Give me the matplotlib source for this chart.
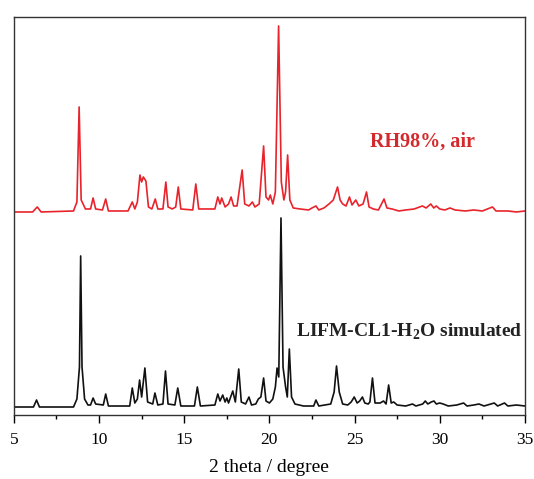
import numpy as np
import matplotlib
matplotlib.use("Agg")
import matplotlib.pyplot as plt

plt.rcParams["font.family"] = ["Liberation Serif", "DejaVu Serif"]
plt.rcParams["mathtext.fontset"] = "custom"
plt.rcParams["mathtext.rm"] = "Liberation Serif"
plt.rcParams["mathtext.bf"] = "Liberation Serif:bold"

### simulated pattern (black) ###
sim_2theta = [5.0, 6.15, 6.33, 6.5, 8.5, 8.7, 8.85, 8.92, 9.0, 9.15, 9.35,
              9.5, 9.65, 9.8, 10.25, 10.39, 10.55, 11.8, 11.95, 12.1,
              12.25, 12.38, 12.5, 12.69, 12.85, 13.15, 13.28, 13.45,
              13.75, 13.9, 14.05, 14.45, 14.62, 14.8, 15.6, 15.77, 15.95,
              16.8, 16.97, 17.1, 17.26, 17.4, 17.5, 17.6, 17.85, 18.0,
              18.2, 18.35, 18.6, 18.8, 18.95, 19.2, 19.35, 19.5, 19.66,
              19.8, 20.0, 20.2, 20.35, 20.45, 20.55, 20.68, 20.8, 20.95,
              21.05, 21.17, 21.3, 21.5, 22.0, 22.6, 22.73, 22.9, 23.6,
              23.8, 23.94, 24.1, 24.3, 24.6, 24.8, 24.98, 25.15, 25.3,
              25.46, 25.6, 25.8, 25.9, 26.05, 26.2, 26.5, 26.7, 26.85,
              27.0, 27.15, 27.3, 27.5, 28.0, 28.4, 28.6, 29.0, 29.15,
              29.3, 29.5, 29.66, 29.8, 30.0, 30.2, 30.5, 31.0, 31.4,
              31.6, 32.0, 32.3, 32.6, 33.0, 33.2, 33.4, 33.8, 34.0,
              34.5, 35.0]
sim_int = [0, 0, 7, 0, 0, 8, 40, 151, 40, 8, 2,
           2, 9, 3, 2, 13, 1, 1, 19, 4,
           8, 27, 10, 39, 5, 3, 14, 2,
           3, 36, 3, 2, 19, 1, 1, 20, 1,
           2, 13, 6, 12, 5, 9, 4, 16, 5,
           38, 5, 3, 10, 2, 3, 8, 10, 29,
           6, 4, 8, 20, 39, 30, 189, 40, 20,
           10, 58, 10, 3, 1, 1, 7, 1, 3,
           15, 41, 15, 3, 2, 5, 10, 4, 6,
           10, 4, 3, 5, 29, 4, 4, 6, 3,
           22, 4, 5, 2, 1, 3, 1, 3, 6,
           3, 5, 6, 3, 4, 3, 1, 2, 4,
           1, 2, 3, 1, 3, 4, 1, 4, 1,
           2, 1]

### RH98%, air (red) ###
air_2theta = [5.0, 6.1, 6.37, 6.6, 8.5, 8.7, 8.83, 8.95, 9.2, 9.5, 9.65,
              9.8, 10.2, 10.39, 10.55, 11.7, 11.95, 12.1, 12.25, 12.4,
              12.5, 12.6, 12.75, 12.9, 13.1, 13.3, 13.45, 13.75, 13.92,
              14.05, 14.3, 14.5, 14.65, 14.8, 15.5, 15.68, 15.85, 16.8,
              16.97, 17.1, 17.2, 17.4, 17.6, 17.75, 17.9, 18.1, 18.4,
              18.55, 18.8, 19.0, 19.15, 19.4, 19.66, 19.8, 19.95, 20.05,
              20.2, 20.35, 20.54, 20.7, 20.85, 20.95, 21.07, 21.2, 21.4,
              21.8, 22.3, 22.5, 22.73, 22.9, 23.2, 23.5, 23.75, 24.0,
              24.15, 24.3, 24.5, 24.7, 24.85, 25.07, 25.25, 25.5, 25.7,
              25.85, 26.1, 26.4, 26.73, 26.9, 27.2, 27.6, 28.0, 28.5,
              28.98, 29.2, 29.47, 29.65, 29.8, 30.0, 30.3, 30.6, 30.9,
              31.5, 32.0, 32.5, 33.1, 33.3, 34.0, 34.5, 35.0]
air_int = [0, 0, 5, 0, 1, 10, 105, 12, 3, 3, 14,
           3, 2, 13, 1, 1, 10, 3, 10, 37,
           30, 35, 31, 5, 3, 13, 3, 3, 30,
           5, 3, 5, 25, 3, 2, 28, 3, 3,
           15, 8, 14, 5, 8, 15, 6, 6, 42,
           8, 6, 10, 5, 8, 66, 15, 12, 17,
           8, 20, 186, 30, 12, 20, 57, 12, 4,
           3, 2, 4, 6, 2, 4, 8, 12, 25,
           12, 8, 6, 15, 7, 12, 6, 8, 20,
           5, 3, 2, 13, 4, 3, 1, 2, 3,
           6, 4, 8, 4, 6, 3, 2, 4, 2,
           1, 2, 1, 5, 1, 1, 0, 1]

offset = 195
red = "#e8232b"

fig = plt.figure(figsize=(5.34, 4.79), dpi=100)
ax = fig.add_axes([0.026, 0.1336, 0.957, 0.831])

ax.plot(sim_2theta, sim_int, color="#111111", lw=1.2)
ax.plot(air_2theta, np.array(air_int) + offset, color=red, lw=1.2)

ax.text(28.96, 265, "RH98%, air", color="#d42a2e", fontsize=14.5,
        fontweight="bold", ha="center", va="center")
ax.text(34.85, 75, r"LIFM-CL1-H$_\mathbf{2}$O simulated", color="#222222",
        fontsize=14, fontweight="bold", ha="right", va="center")

ax.set_xlim(5, 35)
ax.set_ylim(-8, 390)
ax.set_xticks([5, 10, 15, 20, 25, 30, 35])
ax.set_xticks(np.arange(7.5, 35, 5), minor=True)
ax.set_yticks([])
ax.tick_params(axis="x", direction="out", length=6, width=1, labelsize=12.5, pad=6)
ax.tick_params(axis="x", which="minor", direction="out", length=3, width=1)
ax.set_xlabel("2 theta / degree", fontsize=14, labelpad=8)
for s in ax.spines.values():
    s.set_linewidth(1.0)
    s.set_color("#333333")

plt.savefig("out.png", dpi=100)
